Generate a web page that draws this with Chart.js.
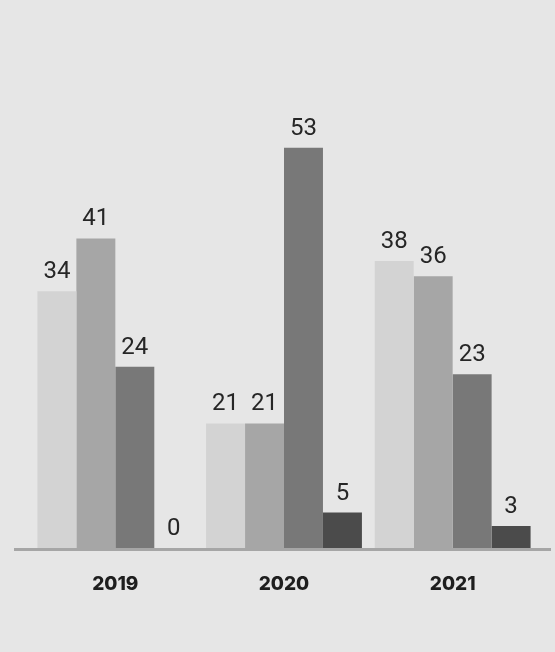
<!DOCTYPE html>
<html>
<head>
<meta charset="utf-8">
<script src="https://cdn.jsdelivr.net/npm/chart.js@4.4.0/dist/chart.umd.min.js"></script>
<style>
  html, body { margin: 0; padding: 0; background: #e6e6e6; }
  #chart { display: block; }
</style>
</head>
<body>
<canvas id="chart" width="555" height="652"></canvas>
<script>
const categories = ['2019', '2020', '2021'];

// bar heights
const series1 = [34, 16.5, 38];
const series2 = [41, 16.5, 36];
const series3 = [24, 53, 23];
const series4 = [0, 4.7, 2.9];

// numbers printed above the bars
const labels1 = ['34', '21', '38'];
const labels2 = ['41', '21', '36'];
const labels3 = ['24', '53', '23'];
const labels4 = ['0', '5', '3'];

const colors = ['#d3d3d3', '#a6a6a6', '#787878', '#4b4b4b'];

const bgPlugin = {
  id: 'bg',
  beforeDraw(chart) {
    const ctx = chart.ctx;
    ctx.save();
    ctx.fillStyle = '#e6e6e6';
    ctx.fillRect(0, 0, chart.width, chart.height);
    ctx.restore();
  }
};

const baselinePlugin = {
  id: 'baseline',
  afterDatasetsDraw(chart) {
    const ctx = chart.ctx;
    const y = chart.scales.y.getPixelForValue(0);
    ctx.save();
    ctx.strokeStyle = '#a6a6a6';
    ctx.lineWidth = 3;
    ctx.beginPath();
    ctx.moveTo(14, y + 1.5);
    ctx.lineTo(551, y + 1.5);
    ctx.stroke();
    ctx.restore();
  }
};

const valueLabels = {
  id: 'valueLabels',
  afterDatasetsDraw(chart) {
    const ctx = chart.ctx;
    ctx.save();
    ctx.font = '24px Roboto';
    ctx.fillStyle = '#262626';
    ctx.textAlign = 'center';
    ctx.textBaseline = 'alphabetic';
    chart.data.datasets.forEach((ds, i) => {
      chart.getDatasetMeta(i).data.forEach((bar, j) => {
        ctx.fillText(ds.valueLabels[j], bar.x, bar.y - 13);
      });
    });
    ctx.restore();
  }
};

const data = {
  labels: categories,
  datasets: [
    { data: series1, valueLabels: labels1, backgroundColor: colors[0] },
    { data: series2, valueLabels: labels2, backgroundColor: colors[1] },
    { data: series3, valueLabels: labels3, backgroundColor: colors[2] },
    { data: series4, valueLabels: labels4, backgroundColor: colors[3] }
  ]
};

new Chart(document.getElementById('chart'), {
  type: 'bar',
  data,
  options: {
    responsive: false,
    animation: false,
    layout: { padding: { left: 31, right: 18, top: 95, bottom: 0 } },
    datasets: {
      bar: { barPercentage: 1, categoryPercentage: 0.924, borderWidth: 0 }
    },
    plugins: {
      legend: { display: false },
      tooltip: { enabled: false }
    },
    scales: {
      x: {
        grid: { display: false },
        border: { display: false },
        ticks: {
          color: '#1e1e1e',
          font: { family: 'Inter', size: 19, weight: 800 },
          padding: 17
        },
        afterFit(scale) { scale.height = 104; }
      },
      y: {
        display: false,
        min: 0,
        max: 60
      }
    }
  },
  plugins: [bgPlugin, baselinePlugin, valueLabels]
});
</script>
</body>
</html>
